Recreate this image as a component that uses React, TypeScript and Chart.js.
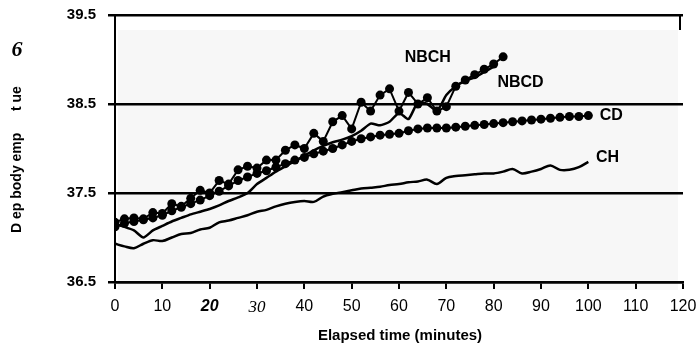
import { useEffect, useRef } from "react";
import { Chart, registerables } from "chart.js";
Chart.register(...registerables);

const nbchTime = [0, 2, 4, 6, 8, 10, 12, 14, 16, 18, 20, 22, 24, 26, 28, 30, 32, 34, 36, 38, 40, 42, 44, 46, 48, 50, 52, 54, 56, 58, 60, 62, 64, 66, 68, 70, 72, 74, 76, 78, 80, 82];
const nbchTemp = [37.17, 37.21, 37.22, 37.21, 37.28, 37.27, 37.38, 37.35, 37.44, 37.53, 37.5, 37.64, 37.6, 37.76, 37.8, 37.78, 37.87, 37.87, 37.98, 38.04, 38.0, 38.17, 38.08, 38.3, 38.37, 38.22, 38.52, 38.42, 38.6, 38.67, 38.42, 38.63, 38.5, 38.57, 38.42, 38.47, 38.7, 38.77, 38.83, 38.89, 38.95, 39.03];

const nbcdTime = [0, 2, 4, 6, 8, 10, 12, 14, 16, 18, 20, 22, 24, 26, 28, 30, 32, 34, 36, 38, 40, 42, 44, 46, 48, 50, 52, 54, 56, 58, 60, 62, 64, 66, 68, 70, 72, 74, 76, 78, 80];
const nbcdTemp = [37.15, 37.12, 37.08, 37.0, 37.08, 37.13, 37.18, 37.22, 37.26, 37.29, 37.32, 37.36, 37.41, 37.45, 37.5, 37.6, 37.67, 37.74, 37.8, 37.86, 37.92, 37.98, 38.03, 38.07, 38.1, 38.14, 38.2, 38.28, 38.26, 38.3, 38.4, 38.33, 38.52, 38.5, 38.42, 38.6, 38.7, 38.76, 38.8, 38.86, 38.92];

const cdTime = [0, 2, 4, 6, 8, 10, 12, 14, 16, 18, 20, 22, 24, 26, 28, 30, 32, 34, 36, 38, 40, 42, 44, 46, 48, 50, 52, 54, 56, 58, 60, 62, 64, 66, 68, 70, 72, 74, 76, 78, 80, 82, 84, 86, 88, 90, 92, 94, 96, 98, 100];
const cdTemp = [37.12, 37.16, 37.18, 37.2, 37.22, 37.25, 37.3, 37.34, 37.38, 37.42, 37.47, 37.52, 37.58, 37.64, 37.68, 37.72, 37.75, 37.79, 37.83, 37.87, 37.9, 37.94, 37.97, 38.0, 38.04, 38.08, 38.11, 38.13, 38.15, 38.16, 38.17, 38.2, 38.22, 38.23, 38.23, 38.23, 38.24, 38.25, 38.26, 38.27, 38.28, 38.29, 38.3, 38.31, 38.32, 38.33, 38.34, 38.35, 38.36, 38.36, 38.37];

const chTime = [0, 2, 4, 6, 8, 10, 12, 14, 16, 18, 20, 22, 24, 26, 28, 30, 32, 34, 36, 38, 40, 42, 44, 46, 48, 50, 52, 54, 56, 58, 60, 62, 64, 66, 68, 70, 72, 74, 76, 78, 80, 82, 84, 86, 88, 90, 92, 94, 96, 98, 100];
const chTemp = [36.93, 36.9, 36.88, 36.93, 36.97, 36.96, 37.0, 37.04, 37.05, 37.09, 37.11, 37.17, 37.19, 37.22, 37.25, 37.29, 37.31, 37.35, 37.38, 37.4, 37.41, 37.4, 37.46, 37.49, 37.51, 37.53, 37.55, 37.56, 37.57, 37.59, 37.6, 37.62, 37.63, 37.65, 37.6, 37.67, 37.69, 37.7, 37.71, 37.72, 37.72, 37.74, 37.77, 37.72, 37.74, 37.77, 37.81, 37.76, 37.76, 37.79, 37.85];

const xTickValues = [0, 10, 20, 30, 40, 50, 60, 70, 80, 90, 100, 110, 120];
const yTickValues = [36.5, 37.5, 38.5, 39.5];

const seriesLabels = [
  { text: "NBCH", x: 61.2, y: 39.02 },
  { text: "NBCD", x: 80.8, y: 38.74 },
  { text: "CD", x: 102.4, y: 38.37 },
  { text: "CH", x: 101.6, y: 37.9 },
];

const yTitleMain = "D ep body emp";
const yTitleEnd = "t ue";
const yTitleGlyph = "6";
const xTitle = "Elapsed time (minutes)";

const SANS = "'Liberation Sans', Arial, sans-serif";

function pts(t: number[], v: number[]) {
  return t.map((x, i) => ({ x, y: v[i] }));
}

export default function App() {
  const ref = useRef<HTMLCanvasElement>(null);
  useEffect(() => {
    const bg = {
      id: "bg",
      beforeDraw(chart: any) {
        const { ctx, chartArea } = chart;
        ctx.save();
        ctx.fillStyle = "#f7f7f7";
        ctx.fillRect(chartArea.left + 3, chartArea.top + 15, chartArea.right - chartArea.left - 8, chartArea.bottom - chartArea.top - 7);
        ctx.restore();
      },
      afterDraw(chart: any) {
        const { ctx, chartArea, scales } = chart;
        ctx.save();
        ctx.fillStyle = "#000";
        ctx.strokeStyle = "#000";
        ctx.lineWidth = 2;
        ctx.beginPath();
        ctx.moveTo(chartArea.right - 3, chartArea.top);
        ctx.lineTo(chartArea.right - 3, chartArea.top + 15);
        ctx.stroke();
        ctx.font = `bold 16px ${SANS}`;
        ctx.textAlign = "left";
        ctx.textBaseline = "middle";
        for (const l of seriesLabels) {
          ctx.fillText(l.text, scales.x.getPixelForValue(l.x), scales.y.getPixelForValue(l.y));
        }
        ctx.font = `bold 15px ${SANS}`;
        ctx.textAlign = "center";
        ctx.fillText(xTitle, 400, 336);
        ctx.font = `bold 14px ${SANS}`;
        ctx.textAlign = "left";
        ctx.save();
        ctx.translate(17, 233);
        ctx.rotate(-Math.PI / 2);
        ctx.fillText(yTitleMain, 0, 0);
        ctx.restore();
        ctx.save();
        ctx.translate(17, 111);
        ctx.rotate(-Math.PI / 2);
        ctx.fillText(yTitleEnd, 0, 0);
        ctx.restore();
        ctx.font = `bold italic 22px 'Liberation Serif', serif`;
        ctx.textAlign = "center";
        ctx.fillText(yTitleGlyph, 17, 50);
        ctx.restore();
      },
    };

    const chart = new Chart(ref.current!, {
      type: "line",
      data: {
        datasets: [
          { label: "NBCH", data: pts(nbchTime, nbchTemp), borderColor: "#000", backgroundColor: "#000", borderWidth: 2, pointRadius: 4.5, pointBorderWidth: 0, tension: 0 },
          { label: "NBCD", data: pts(nbcdTime, nbcdTemp), borderColor: "#000", borderWidth: 2.5, pointRadius: 0, tension: 0.2 },
          { label: "CD", data: pts(cdTime, cdTemp), borderColor: "#000", backgroundColor: "#000", borderWidth: 2, pointRadius: 4.5, pointBorderWidth: 0, tension: 0 },
          { label: "CH", data: pts(chTime, chTemp), borderColor: "#000", borderWidth: 2.5, pointRadius: 0, tension: 0.3 },
        ],
      },
      options: {
        animation: false,
        responsive: false,
        layout: { padding: { top: 15, right: 14, left: 0, bottom: 0 } },
        plugins: { legend: { display: false }, tooltip: { enabled: false } },
        scales: {
          x: {
            type: "linear",
            min: 0,
            max: 120,
            afterBuildTicks: (s: any) => { s.ticks = xTickValues.map((v) => ({ value: v })); },
            afterFit: (s: any) => { s.height = 66; s.paddingLeft = 0; s.paddingRight = 0; },
            grid: { drawOnChartArea: false, drawTicks: true, tickLength: 7, color: "#000", lineWidth: 2 },
            border: { display: true, color: "#000", width: 2.5 },
            ticks: {
              color: "#000",
              padding: 8,
              maxRotation: 0,
              autoSkip: false,
              font: (c: any) => {
                const v = c.tick ? c.tick.value : 0;
                if (v === 20) return { family: SANS, size: 16, style: "italic", weight: "bold" };
                if (v === 30) return { family: "'Liberation Serif', serif", size: 17, style: "italic" };
                return { family: SANS, size: 16 };
              },
            },
          },
          y: {
            min: 36.5,
            max: 39.5,
            afterBuildTicks: (s: any) => { s.ticks = yTickValues.map((v) => ({ value: v })); },
            afterFit: (s: any) => { s.width = 115; s.paddingTop = 0; s.paddingBottom = 0; },
            grid: { color: "#000", lineWidth: 2.5, tickLength: 7, drawTicks: true },
            border: { display: true, color: "#000", width: 2 },
            ticks: {
              color: "#000",
              padding: 12,
              font: { family: SANS, size: 15, weight: "bold" },
              callback: (v: any) => Number(v).toFixed(1),
            },
          },
        },
      },
      plugins: [bg],
    });
    return () => chart.destroy();
  }, []);
  return <canvas ref={ref} width={697} height={348} style={{ position: "fixed", left: 0, top: 0 }} />;
}
